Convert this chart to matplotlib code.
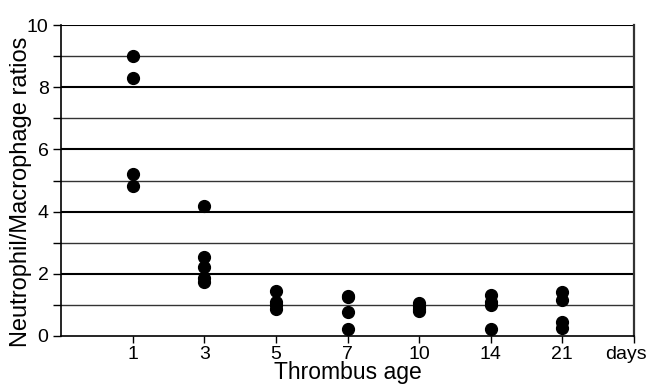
import numpy as np
import matplotlib.pyplot as plt
from matplotlib.ticker import MultipleLocator
from matplotlib.transforms import ScaledTranslation

plt.rcParams['font.family'] = ['Liberation Sans', 'DejaVu Sans']

# thrombus age groups (days) and measured ratios per group
ages = ["1", "3", "5", "7", "10", "14", "21"]
ratios = [
    [9.0, 8.3, 5.2, 4.83],
    [4.19, 2.55, 2.22, 1.85, 1.75],
    [1.45, 1.1, 1.0, 0.87],
    [1.3, 1.25, 0.78, 0.22],
    [1.05, 0.95, 0.87, 0.8],
    [1.32, 1.1, 1.0, 0.22],
    [1.41, 1.16, 0.46, 0.26],
]

fig = plt.figure(figsize=(6.49, 3.86), dpi=100)
ax = fig.add_axes([61 / 649, 1 - 336 / 386, 573 / 649, 311 / 386])

# grid: black at even values, dark grey at odd values
for v in range(1, 11):
    if v % 2 == 0:
        ax.axhline(v, color='black', lw=1.5, zorder=1)
    else:
        ax.axhline(v, color='#333333', lw=1.0, zorder=1)

for i, vals in enumerate(ratios):
    ax.plot([i + 1] * len(vals), vals, 'o', color='black', ms=8.5, zorder=3)

ax.set_xlim(0, 8)
ax.set_ylim(0, 10)
ax.set_xticks(range(1, 9))
ax.set_xticklabels(ages + ["days"])
ax.yaxis.set_major_locator(MultipleLocator(2))
ax.yaxis.set_minor_locator(MultipleLocator(1))
ax.tick_params(axis='y', which='major', labelsize=14, length=6, width=1, pad=3)
ax.tick_params(axis='y', which='minor', length=6, width=1)
ax.tick_params(axis='x', labelsize=14, length=5, width=1, pad=2)

# shift the "days" label a bit left so it fits in the figure
days_lbl = ax.get_xticklabels()[-1]
days_lbl.set_transform(days_lbl.get_transform() + ScaledTranslation(-8 / 100, 0, fig.dpi_scale_trans))

ax.spines['top'].set_visible(False)
ax.spines['left'].set_linewidth(1.2)
ax.spines['bottom'].set_linewidth(1.2)
ax.spines['right'].set_linewidth(1.6)
ax.spines['right'].set_color('#333333')

ax.set_ylabel("Neutrophil/Macrophage ratios", fontsize=17)
ax.yaxis.set_label_coords(-0.05, 0.465)
ax.set_xlabel("Thrombus age", fontsize=16.5, labelpad=-1)

plt.savefig("out.png", dpi=100)
